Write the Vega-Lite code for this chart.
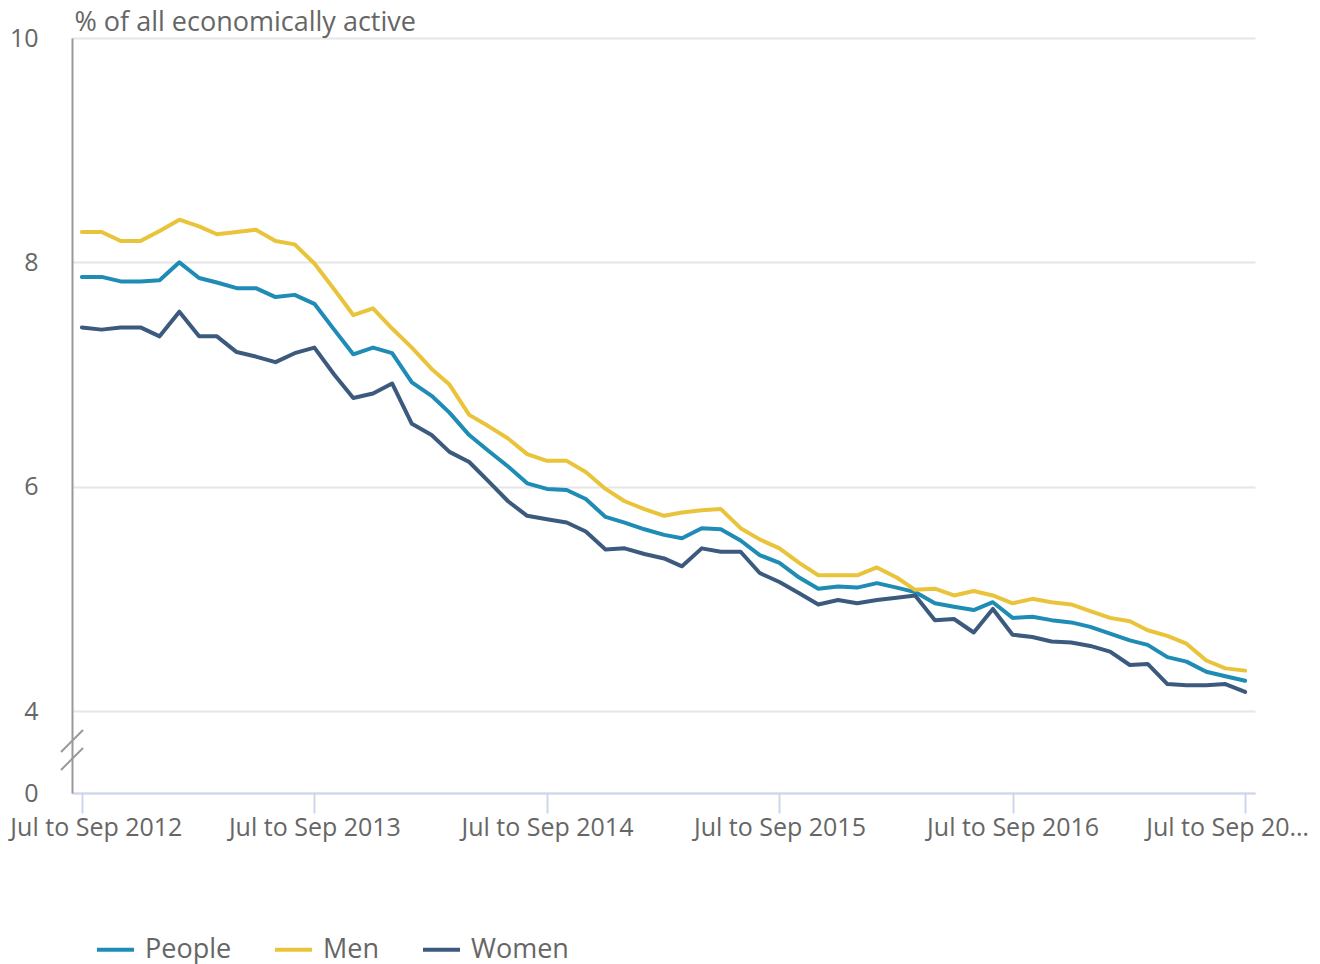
{
  "$schema": "https://vega.github.io/schema/vega-lite/v6.json",
  "width": 1183,
  "height": 755,
  "autosize": {"type": "none"},
  "padding": {"left": 72, "top": 38, "right": 65, "bottom": 171},
  "background": "white",
  "config": {
    "view": {"stroke": null},
    "font": "Open Sans",
    "axis": {"labelFont": "Open Sans", "titleFont": "Open Sans", "labelColor": "#666666", "titleColor": "#666666"},
    "legend": {"labelFont": "Open Sans"}
  },
  "data": {"values": [
    {"date":"2012-08-01","series":"People","rate":7.87},{"date":"2012-09-01","series":"People","rate":7.87},{"date":"2012-10-01","series":"People","rate":7.83},{"date":"2012-11-01","series":"People","rate":7.83},{"date":"2012-12-01","series":"People","rate":7.84},{"date":"2013-01-01","series":"People","rate":8.00},{"date":"2013-02-01","series":"People","rate":7.86},{"date":"2013-03-01","series":"People","rate":7.82},{"date":"2013-04-01","series":"People","rate":7.77},{"date":"2013-05-01","series":"People","rate":7.77},{"date":"2013-06-01","series":"People","rate":7.69},{"date":"2013-07-01","series":"People","rate":7.71},
    {"date":"2013-08-01","series":"People","rate":7.63},{"date":"2013-09-01","series":"People","rate":7.40},{"date":"2013-10-01","series":"People","rate":7.18},{"date":"2013-11-01","series":"People","rate":7.24},{"date":"2013-12-01","series":"People","rate":7.19},{"date":"2014-01-01","series":"People","rate":6.93},{"date":"2014-02-01","series":"People","rate":6.81},{"date":"2014-03-01","series":"People","rate":6.66},{"date":"2014-04-01","series":"People","rate":6.46},{"date":"2014-05-01","series":"People","rate":6.32},{"date":"2014-06-01","series":"People","rate":6.18},{"date":"2014-07-01","series":"People","rate":6.03},
    {"date":"2014-08-01","series":"People","rate":5.98},{"date":"2014-09-01","series":"People","rate":5.97},{"date":"2014-10-01","series":"People","rate":5.89},{"date":"2014-11-01","series":"People","rate":5.73},{"date":"2014-12-01","series":"People","rate":5.68},{"date":"2015-01-01","series":"People","rate":5.62},{"date":"2015-02-01","series":"People","rate":5.57},{"date":"2015-03-01","series":"People","rate":5.54},{"date":"2015-04-01","series":"People","rate":5.63},{"date":"2015-05-01","series":"People","rate":5.62},{"date":"2015-06-01","series":"People","rate":5.52},{"date":"2015-07-01","series":"People","rate":5.39},
    {"date":"2015-08-01","series":"People","rate":5.32},{"date":"2015-09-01","series":"People","rate":5.19},{"date":"2015-10-01","series":"People","rate":5.09},{"date":"2015-11-01","series":"People","rate":5.11},{"date":"2015-12-01","series":"People","rate":5.10},{"date":"2016-01-01","series":"People","rate":5.14},{"date":"2016-02-01","series":"People","rate":5.10},{"date":"2016-03-01","series":"People","rate":5.06},{"date":"2016-04-01","series":"People","rate":4.96},{"date":"2016-05-01","series":"People","rate":4.93},{"date":"2016-06-01","series":"People","rate":4.90},{"date":"2016-07-01","series":"People","rate":4.97},
    {"date":"2016-08-01","series":"People","rate":4.83},{"date":"2016-09-01","series":"People","rate":4.84},{"date":"2016-10-01","series":"People","rate":4.81},{"date":"2016-11-01","series":"People","rate":4.79},{"date":"2016-12-01","series":"People","rate":4.75},{"date":"2017-01-01","series":"People","rate":4.69},{"date":"2017-02-01","series":"People","rate":4.63},{"date":"2017-03-01","series":"People","rate":4.59},{"date":"2017-04-01","series":"People","rate":4.48},{"date":"2017-05-01","series":"People","rate":4.44},{"date":"2017-06-01","series":"People","rate":4.35},{"date":"2017-07-01","series":"People","rate":4.31},{"date":"2017-08-01","series":"People","rate":4.27},
    {"date":"2012-08-01","series":"Men","rate":8.27},{"date":"2012-09-01","series":"Men","rate":8.27},{"date":"2012-10-01","series":"Men","rate":8.19},{"date":"2012-11-01","series":"Men","rate":8.19},{"date":"2012-12-01","series":"Men","rate":8.28},{"date":"2013-01-01","series":"Men","rate":8.38},{"date":"2013-02-01","series":"Men","rate":8.32},{"date":"2013-03-01","series":"Men","rate":8.25},{"date":"2013-04-01","series":"Men","rate":8.27},{"date":"2013-05-01","series":"Men","rate":8.29},{"date":"2013-06-01","series":"Men","rate":8.19},{"date":"2013-07-01","series":"Men","rate":8.16},
    {"date":"2013-08-01","series":"Men","rate":7.99},{"date":"2013-09-01","series":"Men","rate":7.76},{"date":"2013-10-01","series":"Men","rate":7.53},{"date":"2013-11-01","series":"Men","rate":7.59},{"date":"2013-12-01","series":"Men","rate":7.41},{"date":"2014-01-01","series":"Men","rate":7.24},{"date":"2014-02-01","series":"Men","rate":7.05},{"date":"2014-03-01","series":"Men","rate":6.91},{"date":"2014-04-01","series":"Men","rate":6.64},{"date":"2014-05-01","series":"Men","rate":6.54},{"date":"2014-06-01","series":"Men","rate":6.43},{"date":"2014-07-01","series":"Men","rate":6.29},
    {"date":"2014-08-01","series":"Men","rate":6.23},{"date":"2014-09-01","series":"Men","rate":6.23},{"date":"2014-10-01","series":"Men","rate":6.13},{"date":"2014-11-01","series":"Men","rate":5.98},{"date":"2014-12-01","series":"Men","rate":5.87},{"date":"2015-01-01","series":"Men","rate":5.80},{"date":"2015-02-01","series":"Men","rate":5.74},{"date":"2015-03-01","series":"Men","rate":5.77},{"date":"2015-04-01","series":"Men","rate":5.79},{"date":"2015-05-01","series":"Men","rate":5.80},{"date":"2015-06-01","series":"Men","rate":5.63},{"date":"2015-07-01","series":"Men","rate":5.53},
    {"date":"2015-08-01","series":"Men","rate":5.45},{"date":"2015-09-01","series":"Men","rate":5.32},{"date":"2015-10-01","series":"Men","rate":5.21},{"date":"2015-11-01","series":"Men","rate":5.21},{"date":"2015-12-01","series":"Men","rate":5.21},{"date":"2016-01-01","series":"Men","rate":5.28},{"date":"2016-02-01","series":"Men","rate":5.19},{"date":"2016-03-01","series":"Men","rate":5.08},{"date":"2016-04-01","series":"Men","rate":5.09},{"date":"2016-05-01","series":"Men","rate":5.03},{"date":"2016-06-01","series":"Men","rate":5.07},{"date":"2016-07-01","series":"Men","rate":5.03},
    {"date":"2016-08-01","series":"Men","rate":4.96},{"date":"2016-09-01","series":"Men","rate":5.00},{"date":"2016-10-01","series":"Men","rate":4.97},{"date":"2016-11-01","series":"Men","rate":4.95},{"date":"2016-12-01","series":"Men","rate":4.89},{"date":"2017-01-01","series":"Men","rate":4.83},{"date":"2017-02-01","series":"Men","rate":4.80},{"date":"2017-03-01","series":"Men","rate":4.72},{"date":"2017-04-01","series":"Men","rate":4.67},{"date":"2017-05-01","series":"Men","rate":4.60},{"date":"2017-06-01","series":"Men","rate":4.45},{"date":"2017-07-01","series":"Men","rate":4.38},{"date":"2017-08-01","series":"Men","rate":4.36},
    {"date":"2012-08-01","series":"Women","rate":7.42},{"date":"2012-09-01","series":"Women","rate":7.40},{"date":"2012-10-01","series":"Women","rate":7.42},{"date":"2012-11-01","series":"Women","rate":7.42},{"date":"2012-12-01","series":"Women","rate":7.34},{"date":"2013-01-01","series":"Women","rate":7.56},{"date":"2013-02-01","series":"Women","rate":7.34},{"date":"2013-03-01","series":"Women","rate":7.34},{"date":"2013-04-01","series":"Women","rate":7.20},{"date":"2013-05-01","series":"Women","rate":7.16},{"date":"2013-06-01","series":"Women","rate":7.11},{"date":"2013-07-01","series":"Women","rate":7.19},
    {"date":"2013-08-01","series":"Women","rate":7.24},{"date":"2013-09-01","series":"Women","rate":7.00},{"date":"2013-10-01","series":"Women","rate":6.79},{"date":"2013-11-01","series":"Women","rate":6.83},{"date":"2013-12-01","series":"Women","rate":6.92},{"date":"2014-01-01","series":"Women","rate":6.56},{"date":"2014-02-01","series":"Women","rate":6.46},{"date":"2014-03-01","series":"Women","rate":6.31},{"date":"2014-04-01","series":"Women","rate":6.22},{"date":"2014-05-01","series":"Women","rate":6.05},{"date":"2014-06-01","series":"Women","rate":5.87},{"date":"2014-07-01","series":"Women","rate":5.74},
    {"date":"2014-08-01","series":"Women","rate":5.71},{"date":"2014-09-01","series":"Women","rate":5.68},{"date":"2014-10-01","series":"Women","rate":5.60},{"date":"2014-11-01","series":"Women","rate":5.44},{"date":"2014-12-01","series":"Women","rate":5.45},{"date":"2015-01-01","series":"Women","rate":5.40},{"date":"2015-02-01","series":"Women","rate":5.36},{"date":"2015-03-01","series":"Women","rate":5.29},{"date":"2015-04-01","series":"Women","rate":5.45},{"date":"2015-05-01","series":"Women","rate":5.42},{"date":"2015-06-01","series":"Women","rate":5.42},{"date":"2015-07-01","series":"Women","rate":5.23},
    {"date":"2015-08-01","series":"Women","rate":5.15},{"date":"2015-09-01","series":"Women","rate":5.05},{"date":"2015-10-01","series":"Women","rate":4.95},{"date":"2015-11-01","series":"Women","rate":4.99},{"date":"2015-12-01","series":"Women","rate":4.96},{"date":"2016-01-01","series":"Women","rate":4.99},{"date":"2016-02-01","series":"Women","rate":5.01},{"date":"2016-03-01","series":"Women","rate":5.03},{"date":"2016-04-01","series":"Women","rate":4.81},{"date":"2016-05-01","series":"Women","rate":4.82},{"date":"2016-06-01","series":"Women","rate":4.70},{"date":"2016-07-01","series":"Women","rate":4.91},
    {"date":"2016-08-01","series":"Women","rate":4.68},{"date":"2016-09-01","series":"Women","rate":4.66},{"date":"2016-10-01","series":"Women","rate":4.62},{"date":"2016-11-01","series":"Women","rate":4.61},{"date":"2016-12-01","series":"Women","rate":4.58},{"date":"2017-01-01","series":"Women","rate":4.53},{"date":"2017-02-01","series":"Women","rate":4.41},{"date":"2017-03-01","series":"Women","rate":4.42},{"date":"2017-04-01","series":"Women","rate":4.24},{"date":"2017-05-01","series":"Women","rate":4.23},{"date":"2017-06-01","series":"Women","rate":4.23},{"date":"2017-07-01","series":"Women","rate":4.24},{"date":"2017-08-01","series":"Women","rate":4.17}
  ]},
  "layer": [
    {
      "mark": {"type": "line", "strokeWidth": 4, "strokeJoin": "round", "strokeCap": "round"},
      "encoding": {
        "x": {
          "field": "date", "type": "temporal",
          "scale": {"type": "utc", "domain": [{"year": 2012, "month": 7, "date": 16, "hours": 12, "utc": true}, {"year": 2017, "month": 8, "date": 16, "hours": 12, "utc": true}]},
          "axis": {
            "title": null,
            "values": [{"year": 2012, "month": 8, "date": 1, "utc": true}, {"year": 2013, "month": 8, "date": 1, "utc": true}, {"year": 2014, "month": 8, "date": 1, "utc": true}, {"year": 2015, "month": 8, "date": 1, "utc": true}, {"year": 2016, "month": 8, "date": 1, "utc": true}, {"year": 2017, "month": 8, "date": 1, "utc": true}],
            "labelExpr": "utcFormat(datum.value, '%Y') == '2017' ? 'Jul to Sep 20\u2026' : 'Jul to Sep ' + utcFormat(datum.value, '%Y')",
            "labelOffset": {"condition": [{"test": "utcFormat(datum.value, '%Y') == '2012'", "value": 14}, {"test": "utcFormat(datum.value, '%Y') == '2017'", "value": -18}], "value": 0},
            "labelFontSize": 25,
            "labelPadding": 2,
            "labelFlush": false,
            "labelOverlap": false,
            "labelLimit": 400,
            "grid": false,
            "domainColor": "#ccd6eb",
            "domainWidth": 2,
            "tickColor": "#ccd6eb",
            "tickWidth": 2,
            "tickSize": 20
          }
        },
        "y": {
          "field": "rate", "type": "quantitative",
          "scale": {"domain": [0, 4, 10], "range": [755, 673, 0], "nice": false, "zero": false},
          "axis": {
            "values": [0, 4, 6, 8, 10],
            "format": "d",
            "title": "% of all economically active",
            "titleAngle": 0,
            "titleAlign": "left",
            "titleBaseline": "alphabetic",
            "titleX": 2,
            "titleY": -8,
            "titleFontSize": 27,
            "titleFontWeight": "normal",
            "titleLimit": 600,
            "labelFontSize": 25,
            "labelPadding": 34,
            "labelLimit": 200,
            "ticks": false,
            "domainColor": "#999999",
            "domainWidth": 2,
            "grid": true,
            "gridColor": "#e6e6e6",
            "gridWidth": 2
          }
        },
        "color": {
          "field": "series", "type": "nominal",
          "scale": {"domain": ["People", "Men", "Women"], "range": ["#1e8cb4", "#e9c43a", "#3c5a7d"]},
          "legend": {
            "title": null,
            "orient": "none",
            "direction": "horizontal",
            "legendX": 23,
            "legendY": 891,
            "symbolType": "stroke",
            "symbolSize": 1369,
            "symbolStrokeWidth": 4,
            "labelFontSize": 27,
            "labelColor": "#666666",
            "labelOffset": 9,
            "labelLimit": 300,
            "columnPadding": 35
          }
        }
      }
    },
    {
      "data": {"values": [{}]},
      "mark": {"type": "point", "shape": "M-1,0.18L1,-1.82M-1,1.82L1,-0.18", "filled": false, "stroke": "#999999", "strokeWidth": 2, "size": 484, "opacity": 1},
      "encoding": {
        "x": {"datum": {"year": 2012, "month": 7, "date": 16, "hours": 12, "utc": true}, "type": "temporal"},
        "y": {"datum": 2.1, "type": "quantitative"}
      }
    }
  ]
}
